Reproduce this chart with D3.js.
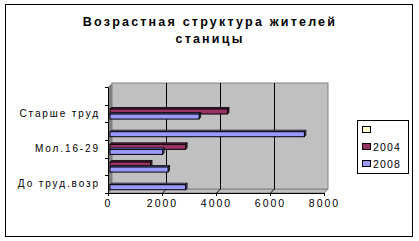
<!DOCTYPE html>
<html>
<head>
<meta charset="utf-8">
<script src="https://cdn.jsdelivr.net/npm/d3@7"></script>
<style>
  body { margin: 0; background: #fff; }
  text { font-family: Arial, "Liberation Sans", sans-serif; }
</style>
</head>
<body>
<div id="chart"></div>
<script>
// categories bottom -> top (every other one has no visible label)
const categories = ["До труд.возр", "", "Мол.16-29", "", "Старше труд", ""];
const series = ["2008", "2004", ""];
const values2008 = [2800, 2150, 1950, 7200, 3300, 0];
const values2004 = [0, 1500, 2800, 0, 4350, 0];
const valuesBlank = [0, 0, 0, 0, 0, 0];
const xTicks = [0, 2000, 4000, 6000, 8000];
const legendNames = ["", "2004", "2008"];

const colors = {"2008": "#9999ff", "2004": "#993366", "": "#ffffcc"};
const seriesValues = {"2008": values2008, "2004": values2004, "": valuesBlank};

const W = 419, H = 241;
const svg = d3.select("#chart").append("svg")
    .attr("width", W).attr("height", H);

// outer frame
svg.append("rect")
    .attr("x", 5.5).attr("y", 4.5).attr("width", 407).attr("height", 232)
    .attr("fill", "#fff").attr("stroke", "#000").attr("stroke-width", 1);

// title
const title = svg.append("text")
    .attr("text-anchor", "middle")
    .style("font-size", "12.5px").style("font-weight", "bold")
    .style("letter-spacing", "2.2px");
title.append("tspan").attr("x", 210).attr("y", 26).text("Возрастная структура жителей");
title.append("tspan").attr("x", 210).attr("y", 43).text("станицы");

// 3D geometry: front plane and depth offset
const depth = {dx: 4, dy: -4};
const x = d3.scaleLinear().domain([0, 8000]).range([108, 324]);
const y = d3.scaleBand().domain(d3.range(categories.length)).range([193, 87]);
const plotTop = 87, plotBottom = 193;

// left side wall
svg.append("polygon")
    .attr("points", [[x(0), plotBottom], [x(0), plotTop], [x(0) + depth.dx, plotTop + depth.dy], [x(0) + depth.dx, plotBottom + depth.dy]].join(" "))
    .attr("fill", "#808080");

// floor
svg.append("polygon")
    .attr("points", [[x(0), plotBottom], [x(8000), plotBottom], [x(8000) + depth.dx, plotBottom + depth.dy], [x(0) + depth.dx, plotBottom + depth.dy]].join(" "))
    .attr("fill", "#c0c0c0").attr("stroke", "#808080").attr("stroke-width", 1);

// back wall
svg.append("rect")
    .attr("x", x(0) + depth.dx).attr("y", plotTop + depth.dy)
    .attr("width", x(8000) - x(0)).attr("height", plotBottom - plotTop)
    .attr("fill", "#c0c0c0").attr("stroke", "#808080").attr("stroke-width", 1);

// gridlines on the back wall + floor
xTicks.slice(1, -1).forEach(function(t) {
    svg.append("line")
        .attr("x1", x(t) + depth.dx + 0.5).attr("x2", x(t) + depth.dx + 0.5)
        .attr("y1", plotTop + depth.dy).attr("y2", plotBottom + depth.dy)
        .attr("stroke", "#000");
    svg.append("line")
        .attr("x1", x(t) + depth.dx + 0.5).attr("x2", x(t) + 0.5)
        .attr("y1", plotBottom + depth.dy).attr("y2", plotBottom)
        .attr("stroke", "#000");
});

// bars, drawn mid-depth
const mid = {dx: depth.dx / 2, dy: depth.dy / 2};
const slot = d3.scaleBand().domain(series).range([y.bandwidth(), 0]).paddingOuter(0.25).paddingInner(0);
const bh = slot.bandwidth();

// draw top category first so lower bars overlap properly
d3.range(categories.length).reverse().forEach(function(ci) {
    series.slice().reverse().forEach(function(s) {
        const v = seriesValues[s][ci];
        if (!v) return;
        const x0 = x(0) + mid.dx, x1 = x(v) + mid.dx;
        const y0 = y(ci) + slot(s) + mid.dy;
        const g = svg.append("g");
        // top face
        g.append("polygon")
            .attr("points", [[x0, y0], [x1, y0], [x1 + 1.5, y0 - 1.5], [x0 + 1.5, y0 - 1.5]].join(" "))
            .attr("fill", d3.color(colors[s]).darker(0.3)).attr("stroke", "#000").attr("stroke-width", 0.8);
        // side face
        g.append("polygon")
            .attr("points", [[x1, y0], [x1 + 1.5, y0 - 1.5], [x1 + 1.5, y0 + bh - 1.5], [x1, y0 + bh]].join(" "))
            .attr("fill", d3.color(colors[s]).darker(1.2)).attr("stroke", "#000").attr("stroke-width", 0.8);
        // front face
        g.append("rect")
            .attr("x", x0).attr("y", y0).attr("width", x1 - x0).attr("height", bh)
            .attr("fill", colors[s]).attr("stroke", "#000").attr("stroke-width", 1);
    });
});

// value axis along the front edge
const xAxis = svg.append("g")
    .attr("transform", "translate(0," + plotBottom + ")")
    .call(d3.axisBottom(x).tickValues(xTicks).tickFormat(d3.format("d")).tickSize(3).tickSizeOuter(0));
xAxis.select(".domain").attr("stroke", "#000");
xAxis.selectAll("text")
    .attr("dy", "0.71em").attr("y", 7)
    .style("font-size", "10.5px").style("letter-spacing", "2px").attr("fill", "#000");

// category axis along the left front edge
const yAxis = svg.append("g")
    .attr("transform", "translate(" + x(0) + ",0)")
    .call(d3.axisLeft(y).tickFormat(function(i) { return categories[i]; }).tickSize(0).tickSizeOuter(0));
yAxis.select(".domain").attr("stroke", "#000");
yAxis.selectAll("text")
    .attr("x", -8)
    .style("font-size", "10px").style("letter-spacing", "1.9px").attr("fill", "#000");
// category ticks sit on the band edges
d3.range(categories.length + 1).forEach(function(i) {
    const ty = i < categories.length ? y(i) + y.bandwidth() : y(i - 1);
    svg.append("line")
        .attr("x1", x(0) - 3).attr("x2", x(0))
        .attr("y1", Math.round(ty) + 0.5).attr("y2", Math.round(ty) + 0.5)
        .attr("stroke", "#000");
});

// legend
const legend = svg.append("g").attr("transform", "translate(357,120)");
legend.append("rect")
    .attr("x", 0.5).attr("y", 0.5).attr("width", 51).attr("height", 53)
    .attr("fill", "#fff").attr("stroke", "#000");
legendNames.forEach(function(name, i) {
    const key = name;
    legend.append("rect")
        .attr("x", 5.5).attr("y", 6.5 + i * 17).attr("width", 8).attr("height", 6)
        .attr("fill", colors[key]).attr("stroke", "#000");
    legend.append("text")
        .attr("x", 16).attr("y", 14 + i * 17)
        .style("font-size", "10.5px").style("letter-spacing", "1.2px")
        .text(name);
});
</script>
</body>
</html>
